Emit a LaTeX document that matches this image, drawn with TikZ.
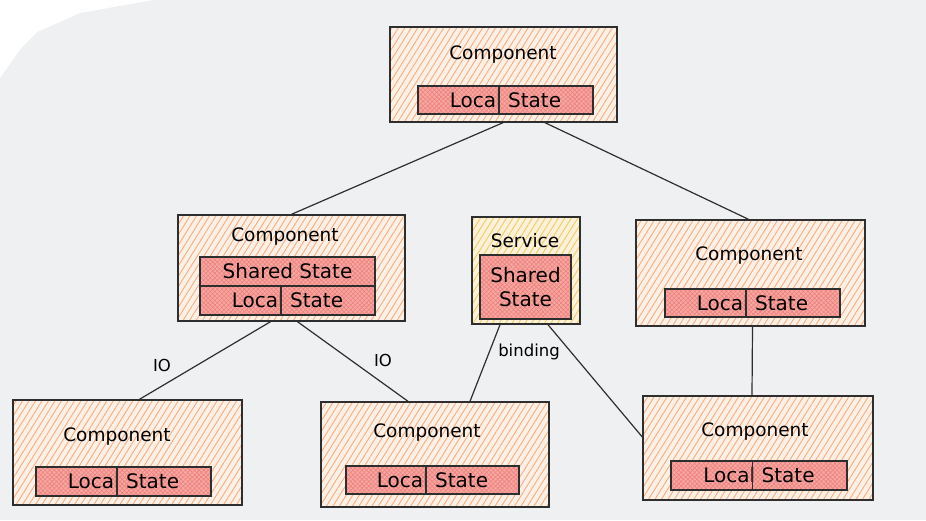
\documentclass[tikz,border=0pt]{standalone}
\usepackage{fontspec}
\setmainfont{DejaVu Sans}
\usetikzlibrary{patterns.meta}
\definecolor{bg}{HTML}{EFF0F2}
\definecolor{hach}{HTML}{F5A066}
\definecolor{ylw}{HTML}{F0C455}
\definecolor{redf}{HTML}{F8A8A2}
\definecolor{redl}{HTML}{E8625B}
\definecolor{ink}{HTML}{2E2E2E}
\tikzset{
  comp/.style={draw=ink, line width=1.4pt, preaction={fill=hach!16},
    pattern={Lines[angle=58,distance=5.5pt,line width=0.9pt]}, pattern color=hach!85,
    inner sep=0pt},
  svcbox/.style={comp, preaction={fill=ylw!22}, pattern color=ylw!90},
  statebox/.style={draw=ink, line width=1.3pt, preaction={fill=redf},
    pattern={Hatch[angle=45,distance=3.2pt,line width=0.6pt]}, pattern color=redl!80,
    inner sep=0pt, font=\fontsize{20}{23}\selectfont, text=black},
  title/.style={font=\fontsize{18.5}{21}\selectfont, text=black, inner sep=0pt},
  lbl/.style={font=\fontsize{16.5}{19}\selectfont, text=black, inner sep=1pt},
  conn/.style={draw=ink, line width=1.2pt},
  divider/.style={draw=ink, line width=1.1pt},
}
\begin{document}
\begin{tikzpicture}[x=1pt,y=-1pt]
\useasboundingbox (0,0) rectangle (926,520);
\fill[bg] (0,0) rectangle (926,520);
\fill[white] (0,0) -- (0,78) -- (22,47) -- (37,32) -- (80,13) -- (153,0) -- cycle;

% top
\node[comp, minimum width=227, minimum height=95] (top) at (503.5,74.5) {};
\node[title] (toptitle) at (503,55) {Component};
\node[statebox, minimum width=175, minimum height=28] (topls) at (505.5,100) {Local State};
\draw[divider] ([xshift=-6.5pt]topls.north) -- ([xshift=-6.5pt]topls.south);

% mid-left
\node[comp, minimum width=227, minimum height=106] (ml) at (291.5,268) {};
\node[title] (mltitle) at (285,237) {Component};
\node[statebox, minimum width=175, minimum height=29] (mlss) at (287.5,271.5) {Shared State};
\node[statebox, minimum width=175, minimum height=29] (mlls) at (287.5,300.5) {Local State};
\draw[divider] ([xshift=-6.5pt]mlls.north) -- ([xshift=-6.5pt]mlls.south);

% service
\node[svcbox, minimum width=108, minimum height=107] (svc) at (526,270.5) {};
\node[title] (svctitle) at (525,241) {Service};
\node[statebox, minimum width=91, minimum height=64, align=center] (svcss) at (525.5,287) {Shared\\[1pt]State};

% mid-right
\node[comp, minimum width=229, minimum height=106] (mr) at (750.5,273) {};
\node[title] (mrtitle) at (749,256) {Component};
\node[statebox, minimum width=175, minimum height=28] (mrls) at (752.5,303) {Local State};
\draw[divider] ([xshift=-6.5pt]mrls.north) -- ([xshift=-6.5pt]mrls.south);

% bottom-left
\node[comp, minimum width=229, minimum height=105] (bl) at (127.5,452.5) {};
\node[title] (bltitle) at (117,437) {Component};
\node[statebox, minimum width=175, minimum height=29] (blls) at (123.5,481.5) {Local State};
\draw[divider] ([xshift=-6.5pt]blls.north) -- ([xshift=-6.5pt]blls.south);

% bottom-mid
\node[comp, minimum width=228, minimum height=105] (bm) at (435,454.5) {};
\node[title] (bmtitle) at (427,433) {Component};
\node[statebox, minimum width=173, minimum height=28] (bmls) at (432.5,480) {Local State};
\draw[divider] ([xshift=-6.5pt]bmls.north) -- ([xshift=-6.5pt]bmls.south);

% bottom-right
\node[comp, minimum width=230, minimum height=104] (br) at (758,448) {};
\node[title] (brtitle) at (755,432) {Component};
\node[statebox, minimum width=176, minimum height=29] (brls) at (759,475.5) {Local State};
\draw[divider] ([xshift=-6.5pt]brls.north) -- ([xshift=-6.5pt]brls.south);

% connectors
\draw[conn] (top.south) -- (ml.north);
\draw[conn] ([xshift=41pt]top.south) -- ([xshift=-2pt]mr.north);
\draw[conn] ([xshift=-21pt]ml.south) -- ([xshift=12pt]bl.north);
\draw[conn] ([xshift=6pt]ml.south) -- ([xshift=-27pt]bm.north);
\draw[conn] ([xshift=-26pt]svc.south) -- ([xshift=35pt]bm.north);
\draw[conn] ([xshift=22pt]svc.south) -- ([yshift=11pt]br.west);
\draw[conn] ([xshift=2pt]mr.south) -- ([xshift=-6pt]br.north);

% labels
\node[lbl] (io1) at (162,365) {IO};
\node[lbl] (io2) at (383,360) {IO};
\node[lbl] (bind) at (529,352) {binding};
\end{tikzpicture}
\end{document}
